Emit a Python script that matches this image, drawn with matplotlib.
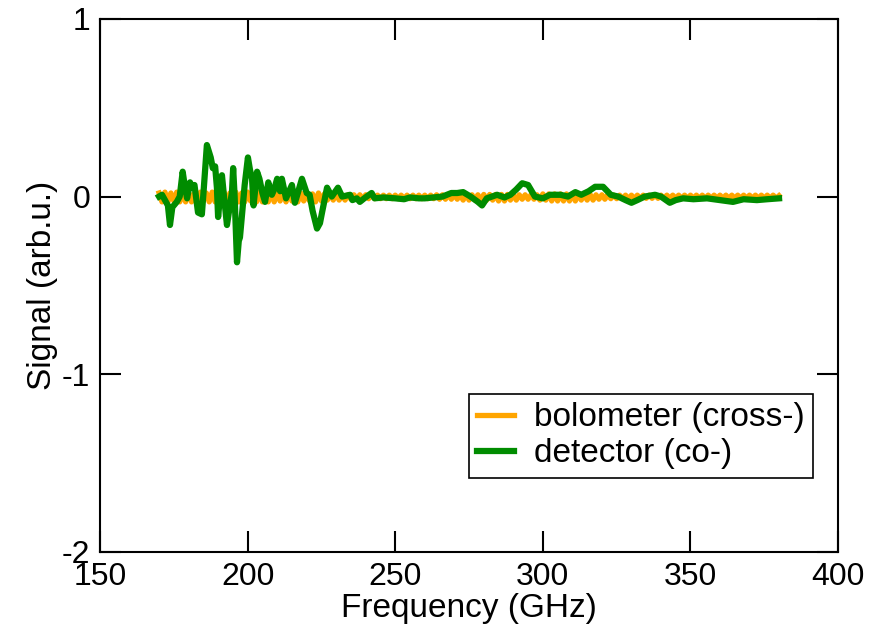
import numpy as np
import matplotlib.pyplot as plt

plt.rcParams['font.family'] = ['Liberation Sans', 'DejaVu Sans']
plt.rcParams['axes.unicode_minus'] = False

# detector (co-) signal
det_freq = [170.0, 171.0, 172.0, 173.0, 173.7, 174.5, 176.0, 177.0, 178.0, 178.8,
            179.5, 180.5, 181.2, 182.0, 183.2, 184.5, 185.0, 186.2, 187.5, 188.2,
            189.0, 189.6, 190.0, 191.3, 192.0, 193.0, 194.0, 194.7, 195.1, 195.6,
            196.4, 197.0, 197.4, 198.0, 199.0, 200.1, 200.8, 201.5, 202.0, 203.2,
            204.0, 205.0, 205.9, 207.0, 208.2, 209.0, 210.0, 211.0, 211.6, 213.0,
            215.0, 216.0, 217.0, 218.4, 219.2, 220.0, 221.0, 222.0, 223.5, 224.5,
            225.2, 226.9, 228.5, 230.6, 232.0, 234.7, 235.5, 237.0, 238.0, 239.5,
            242.0, 243.0, 246.0, 250.0, 253.0, 255.0, 258.0, 260.0, 263.0, 266.0,
            269.0, 271.0, 273.0, 275.5, 278.0, 279.4, 281.0, 284.5, 287.0, 289.0,
            291.0, 293.0, 295.0, 297.3, 300.0, 302.4, 306.0, 308.5, 311.0, 313.0,
            315.5, 317.7, 320.4, 323.0, 325.5, 328.0, 330.0, 332.0, 334.5, 338.0,
            340.0, 343.0, 345.0, 347.5, 351.0, 355.6, 360.0, 364.4, 368.0, 372.5,
            376.0, 380.0]
det_sig = [0.00, 0.01, -0.02, -0.05, -0.16, -0.06, -0.03, 0.00, 0.14, 0.05,
           -0.01, 0.08, 0.05, 0.065, -0.09, -0.10, 0.01, 0.29, 0.22, 0.16,
           0.17, 0.05, -0.115, 0.12, 0.00, -0.16, -0.05, 0.025, 0.16, 0.00,
           -0.37, -0.25, -0.23, -0.12, 0.065, 0.22, 0.15, 0.10, -0.05, 0.14,
           0.10, 0.02, -0.03, 0.08, 0.01, 0.04, 0.10, 0.03, 0.10, -0.01,
           0.065, -0.035, 0.02, 0.10, 0.06, 0.02, 0.01, -0.08, -0.18, -0.15,
           -0.09, 0.05, 0.00, 0.05, 0.00, 0.01, -0.02, -0.01, -0.03, -0.01,
           0.02, -0.01, -0.005, -0.01, -0.015, -0.005, -0.01, -0.01, -0.005, 0.00,
           0.02, 0.02, 0.025, 0.00, -0.03, -0.05, -0.01, 0.01, -0.005, 0.01,
           0.04, 0.075, 0.065, 0.00, -0.01, 0.01, 0.01, 0.00, 0.025, 0.01,
           0.03, 0.055, 0.055, 0.01, 0.00, -0.02, -0.035, -0.02, 0.00, 0.01,
           0.00, -0.035, -0.02, -0.01, -0.015, -0.01, -0.02, -0.03, -0.015, -0.02,
           -0.015, -0.01]

# bolometer (cross-) signal, fast fringes around zero (1 GHz steps)
bolo_sig = [0.02, -0.03, 0.025, -0.03, 0.02, -0.025, 0.025, -0.03, 0.02, -0.03,
            0.025, -0.03, 0.02, -0.03, 0.025, -0.025, 0.02, -0.03, 0.025, -0.03,
            0.02, -0.03, 0.025, -0.035, 0.02, -0.03, 0.025, -0.03, 0.02, -0.03,
            0.025, -0.025, 0.02, -0.03, 0.025, -0.03, 0.02, -0.03, 0.025, -0.03,
            0.02, -0.025, 0.02, -0.03, 0.02, -0.025, 0.02, -0.03, 0.02, -0.025,
            0.015, -0.025, 0.015, -0.03, 0.02, -0.025, 0.015, -0.02, 0.015, -0.02,
            0.015, -0.02, 0.01, -0.02, 0.01, -0.015, 0.01, -0.015, 0.01, -0.015,
            0.01, -0.012, 0.01, -0.012, 0.008, -0.012, 0.008, -0.012, 0.008, -0.012,
            0.008, -0.012, 0.008, -0.012, 0.008, -0.012, 0.008, -0.012, 0.008, -0.012,
            0.008, -0.012, 0.008, -0.012, 0.01, -0.015, 0.01, -0.015, 0.01, -0.015,
            0.01, -0.015, 0.01, -0.02, 0.01, -0.02, 0.01, -0.02, 0.01, -0.02,
            0.012, -0.02, 0.012, -0.02, 0.012, -0.025, 0.012, -0.025, 0.012, -0.02,
            0.01, -0.02, 0.01, -0.015, 0.01, -0.015, 0.01, -0.015, 0.01, -0.02,
            0.015, -0.02, 0.015, -0.025, 0.015, -0.025, 0.015, -0.025, 0.015, -0.025,
            0.015, -0.025, 0.015, -0.02, 0.012, -0.02, 0.012, -0.02, 0.01, -0.015,
            0.01, -0.015, 0.01, -0.012, 0.008, -0.012, 0.008, -0.012, 0.008, -0.012,
            0.008, -0.012, 0.008, -0.01, 0.008, -0.01, 0.008, -0.01, 0.008, -0.01,
            0.008, -0.01, 0.008, -0.01, 0.008, -0.01, 0.008, -0.01, 0.008, -0.01,
            0.008, -0.01, 0.008, -0.01, 0.008, -0.01, 0.008, -0.01, 0.008, -0.01,
            0.008, -0.01, 0.008, -0.01, 0.008, -0.01, 0.008, -0.01, 0.008, -0.01,
            0.008, -0.01, 0.008, -0.01, 0.008, -0.01, 0.008, -0.01, 0.008, -0.01,
            0.005]
bolo_freq = np.linspace(170, 380, len(bolo_sig))

fig = plt.figure(figsize=(8.85, 6.3), dpi=100)
ax = fig.add_axes([0.113, 0.124, 0.834, 0.846])

ax.plot(bolo_freq, bolo_sig, color='#ffa500', lw=3.8, label='bolometer (cross-)')
ax.plot(det_freq, det_sig, color='#008c00', lw=4.5, label='detector (co-)')

ax.set_xlim(150, 400)
ax.set_ylim(-2, 1)
ax.set_xticks([150, 200, 250, 300, 350, 400])
ax.set_yticks([-2, -1, 0, 1])
ax.tick_params(direction='in', length=15, width=1.5, labelsize=23,
               top=True, right=True, pad=7)
for s in ax.spines.values():
    s.set_linewidth(1.5)

ax.set_xlabel('Frequency (GHz)', fontsize=24, labelpad=1)
ax.set_ylabel('Signal (arb.u.)', fontsize=24, labelpad=3)

leg = ax.legend(loc='lower right', bbox_to_anchor=(0.966, 0.139), fontsize=24,
                fancybox=False, edgecolor='black', framealpha=1,
                handlelength=1.1, borderaxespad=0, borderpad=0.25,
                labelspacing=0.15, handletextpad=0.6)
leg.get_frame().set_linewidth(1.2)

fig.savefig('out.png', dpi=100)
